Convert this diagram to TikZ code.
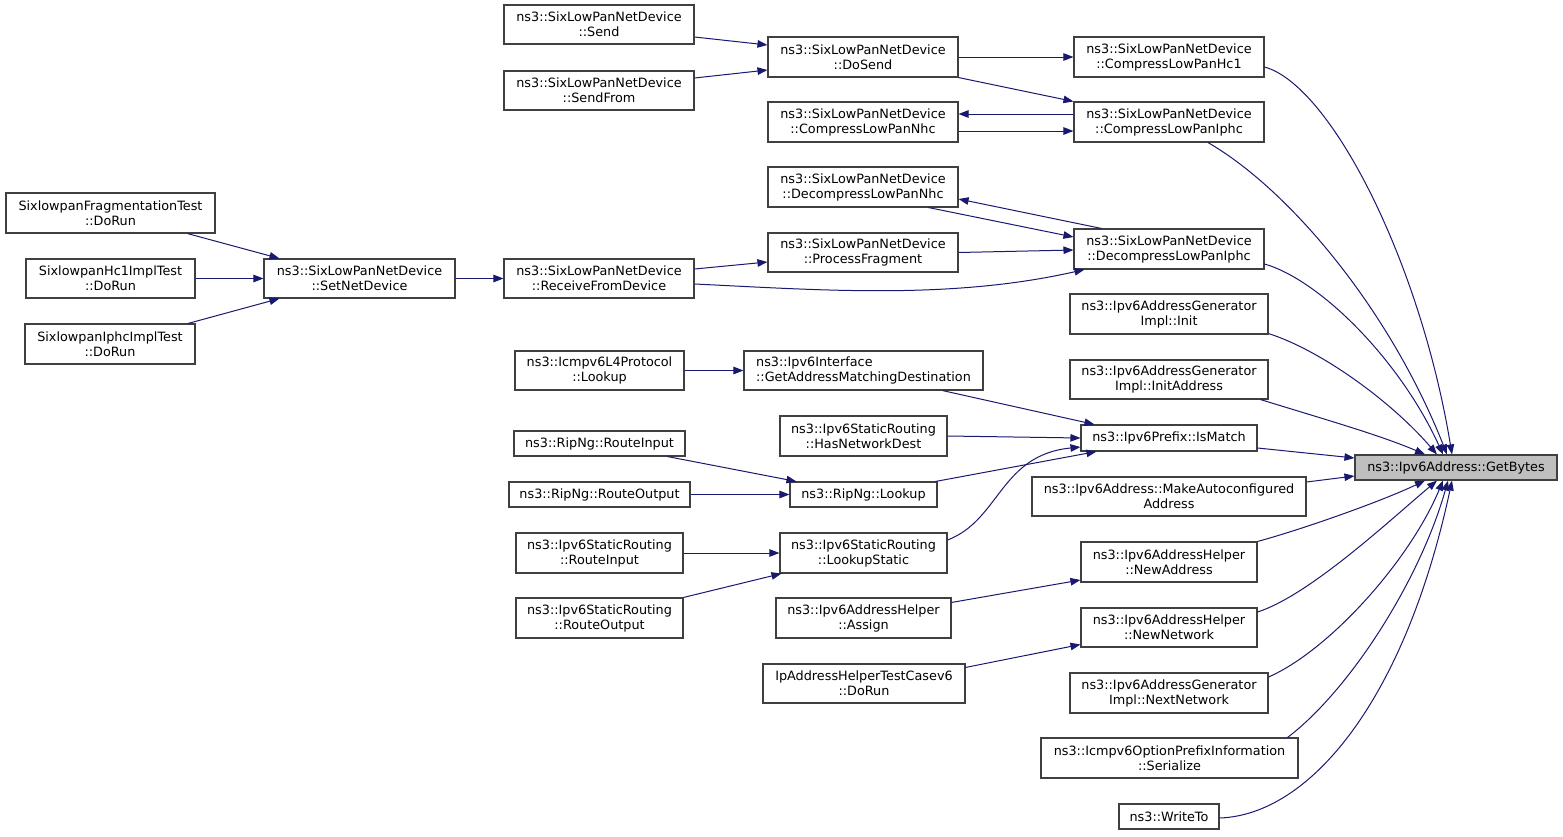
\documentclass[tikz,border=0pt]{standalone}
\usepackage{fontspec}
\setmainfont{DejaVu Sans}
\usetikzlibrary{arrows.meta}
\definecolor{edgec}{HTML}{191970}
\definecolor{boxc}{HTML}{404040}
\definecolor{tgtfill}{HTML}{BFBFBF}
\begin{document}
\begin{tikzpicture}[x=1pt,y=-1pt,
  box/.style={draw=boxc, line width=1.1pt, fill=white, inner sep=0pt, align=center,
    font=\fontsize{12.8}{15}\selectfont},
  callarrow/.style={draw=edgec, line width=1pt, -{Stealth[length=10pt,width=7.5pt,inset=0pt]}}]
\useasboundingbox (0,0) rectangle (1563,836);
\fill[white] (0,0) rectangle (1563,836);

% column 1
\node[box, minimum width=209pt, minimum height=40pt] (a1) at (110.5,213) {SixlowpanFragmentationTest\\::DoRun};
\node[box, minimum width=169pt, minimum height=39pt] (a2) at (110.5,278.5) {SixlowpanHc1ImplTest\\::DoRun};
\node[box, minimum width=170pt, minimum height=40pt] (a3) at (110,344) {SixlowpanIphcImplTest\\::DoRun};
% column 2
\node[box, minimum width=191pt, minimum height=39pt] (setnet) at (359.5,278.5) {ns3::SixLowPanNetDevice\\::SetNetDevice};
% column 3
\node[box, minimum width=190pt, minimum height=39pt] (send) at (599,24.5) {ns3::SixLowPanNetDevice\\::Send};
\node[box, minimum width=190pt, minimum height=39pt] (sendfrom) at (599,90.5) {ns3::SixLowPanNetDevice\\::SendFrom};
\node[box, minimum width=190pt, minimum height=39pt] (rfd) at (599,278.5) {ns3::SixLowPanNetDevice\\::ReceiveFromDevice};
\node[box, minimum width=169pt, minimum height=39pt] (icmplookup) at (599.5,370.5) {ns3::Icmpv6L4Protocol\\::Lookup};
\node[box, minimum width=171pt, minimum height=25pt] (ripin) at (599.5,443.5) {ns3::RipNg::RouteInput};
\node[box, minimum width=181pt, minimum height=25pt] (ripout) at (599.5,494.5) {ns3::RipNg::RouteOutput};
\node[box, minimum width=167pt, minimum height=40pt] (srin) at (599.5,553) {ns3::Ipv6StaticRouting\\::RouteInput};
\node[box, minimum width=167pt, minimum height=40pt] (srout) at (599.5,618) {ns3::Ipv6StaticRouting\\::RouteOutput};
% column 4
\node[box, minimum width=190pt, minimum height=40pt] (dosend) at (863,57) {ns3::SixLowPanNetDevice\\::DoSend};
\node[box, minimum width=190pt, minimum height=40pt] (cnhc) at (863,122) {ns3::SixLowPanNetDevice\\::CompressLowPanNhc};
\node[box, minimum width=190pt, minimum height=40pt] (dnhc) at (863,187) {ns3::SixLowPanNetDevice\\::DecompressLowPanNhc};
\node[box, minimum width=190pt, minimum height=39pt] (pfrag) at (863,252.5) {ns3::SixLowPanNetDevice\\::ProcessFragment};
\node[box, minimum width=239pt, minimum height=39pt, align=left] (gamd) at (863.5,370.5) {ns3::Ipv6Interface\\::GetAddressMatchingDestination};
\node[box, minimum width=167pt, minimum height=40pt] (hnd) at (863.5,436) {ns3::Ipv6StaticRouting\\::HasNetworkDest};
\node[box, minimum width=147pt, minimum height=25pt] (riplookup) at (863.5,494.5) {ns3::RipNg::Lookup};
\node[box, minimum width=167pt, minimum height=40pt] (lstatic) at (863.5,553) {ns3::Ipv6StaticRouting\\::LookupStatic};
\node[box, minimum width=175pt, minimum height=40pt] (assign) at (863.5,618) {ns3::Ipv6AddressHelper\\::Assign};
\node[box, minimum width=202pt, minimum height=39pt] (iptest) at (864,683.5) {IpAddressHelperTestCasev6\\::DoRun};
% column 5
\node[box, minimum width=190pt, minimum height=40pt] (hc1) at (1169,57) {ns3::SixLowPanNetDevice\\::CompressLowPanHc1};
\node[box, minimum width=190pt, minimum height=40pt] (ciphc) at (1169,122) {ns3::SixLowPanNetDevice\\::CompressLowPanIphc};
\node[box, minimum width=190pt, minimum height=40pt] (diphc) at (1169,249) {ns3::SixLowPanNetDevice\\::DecompressLowPanIphc};
\node[box, minimum width=198pt, minimum height=40pt] (init) at (1169,314) {ns3::Ipv6AddressGenerator\\Impl::Init};
\node[box, minimum width=198pt, minimum height=39pt] (initaddr) at (1169,379.5) {ns3::Ipv6AddressGenerator\\Impl::InitAddress};
\node[box, minimum width=176pt, minimum height=26pt] (ismatch) at (1169,438) {ns3::Ipv6Prefix::IsMatch};
\node[box, minimum width=274pt, minimum height=39pt] (make) at (1169,496.5) {ns3::Ipv6Address::MakeAutoconfigured\\Address};
\node[box, minimum width=176pt, minimum height=40pt] (newaddr) at (1169,562) {ns3::Ipv6AddressHelper\\::NewAddress};
\node[box, minimum width=176pt, minimum height=39pt] (newnet) at (1169,627.5) {ns3::Ipv6AddressHelper\\::NewNetwork};
\node[box, minimum width=198pt, minimum height=40pt] (nextnet) at (1169,693) {ns3::Ipv6AddressGenerator\\Impl::NextNetwork};
\node[box, minimum width=257pt, minimum height=40pt] (serialize) at (1169.5,758) {ns3::Icmpv6OptionPrefixInformation\\::Serialize};
\node[box, minimum width=100pt, minimum height=25pt] (writeto) at (1169,816.5) {ns3::WriteTo};
% target
\node[box, fill=tgtfill, minimum width=202pt, minimum height=25pt] (tgt) at (1456,467.5) {ns3::Ipv6Address::GetBytes};

% edges: left part
\draw[callarrow] ([xshift=77pt]a1.south) -- ([xshift=16pt]setnet.north west);
\draw[callarrow] (a2.east) -- (setnet.west);
\draw[callarrow] ([xshift=78pt]a3.north) -- ([xshift=16pt]setnet.south west);
\draw[callarrow] (setnet.east) -- (rfd.west);
\draw[callarrow] ([yshift=-12.5pt]send.east) -- ([yshift=12pt]dosend.west);
\draw[callarrow] ([yshift=12.5pt]sendfrom.east) -- ([yshift=-13pt]dosend.west);
\draw[callarrow] (dosend.east) -- (hc1.west);
\draw[callarrow] (dosend.south east) -- (ciphc.north west);
\draw[callarrow] ([yshift=8pt]ciphc.west) -- ([yshift=8pt]cnhc.east);
\draw[callarrow] ([yshift=-9pt]cnhc.east) -- ([yshift=-9pt]ciphc.west);
\draw[callarrow] ([xshift=28pt]diphc.north west) -- ([yshift=-12pt]dnhc.east);
\draw[callarrow] ([xshift=-30pt]dnhc.south east) -- ([yshift=12pt]diphc.west);
\draw[callarrow] (pfrag.east) -- ([yshift=-1pt]diphc.west);
\draw[callarrow] ([yshift=9.5pt]rfd.east) -- ([yshift=-9.5pt]pfrag.west);
\draw[callarrow] ([yshift=-5.5pt]rfd.east) .. controls (820,290) and (950,300) .. ([xshift=11pt]diphc.south west);
\draw[callarrow] (icmplookup.east) -- (gamd.west);
\draw[callarrow] ([xshift=-41pt]gamd.south east) -- ([xshift=14pt]ismatch.north west);
\draw[callarrow] (hnd.east) -- (ismatch.west);
\draw[callarrow] ([xshift=-2pt]riplookup.north east) -- ([xshift=16pt]ismatch.south west);
\draw[callarrow] ([yshift=13pt]lstatic.east) .. controls (1000,520) and (1000,455) .. ([yshift=-9pt]ismatch.west);
\draw[callarrow] ([xshift=68pt]ripin.south) -- ([xshift=7pt]riplookup.north west);
\draw[callarrow] (ripout.east) -- (riplookup.west);
\draw[callarrow] (srin.east) -- (lstatic.west);
\draw[callarrow] (srout.north east) -- ([xshift=2pt]lstatic.south west);
\draw[callarrow] ([yshift=-5pt]assign.north east) -- ([yshift=-18pt]newaddr.west);
\draw[callarrow] ([yshift=-4pt]iptest.north east) -- ([yshift=-17pt]newnet.west);

% edges into target
\draw[callarrow] ([yshift=-10pt]hc1.east) .. controls (1330,85) and (1420,260) .. ([xshift=-4pt]tgt.north);
\draw[callarrow] ([xshift=39pt]ciphc.south) .. controls (1290,190) and (1390,310) .. ([xshift=-9pt]tgt.north);
\draw[callarrow] ([yshift=-15pt]diphc.east) .. controls (1320,280) and (1400,360) .. ([xshift=-13pt]tgt.north);
\draw[callarrow] ([yshift=1pt]init.south east) .. controls (1320,350) and (1390,400) .. ([xshift=-19pt]tgt.north);
\draw[callarrow] ([xshift=-8pt]initaddr.south east) .. controls (1320,418) and (1380,435) .. ([xshift=-31pt]tgt.north);
\draw[callarrow] ([yshift=-10pt]ismatch.east) -- ([yshift=9.5pt]tgt.west);
\draw[callarrow] ([yshift=14.5pt]make.east) -- ([yshift=-8.5pt]tgt.west);
\draw[callarrow] (newaddr.north east) .. controls (1300,530) and (1380,502) .. ([xshift=-31pt]tgt.south);
\draw[callarrow] ([yshift=15.5pt]newnet.east) .. controls (1310,595) and (1390,520) .. ([xshift=-19pt]tgt.south);
\draw[callarrow] ([yshift=16pt]nextnet.east) .. controls (1330,650) and (1410,560) .. ([xshift=-13pt]tgt.south);
\draw[callarrow] ([xshift=-11pt]serialize.north east) .. controls (1350,690) and (1420,580) .. ([xshift=-8pt]tgt.south);
\draw[callarrow] ([yshift=-1.5pt]writeto.east) .. controls (1310,815) and (1405,700) .. ([xshift=-4pt]tgt.south);
\end{tikzpicture}
\end{document}
